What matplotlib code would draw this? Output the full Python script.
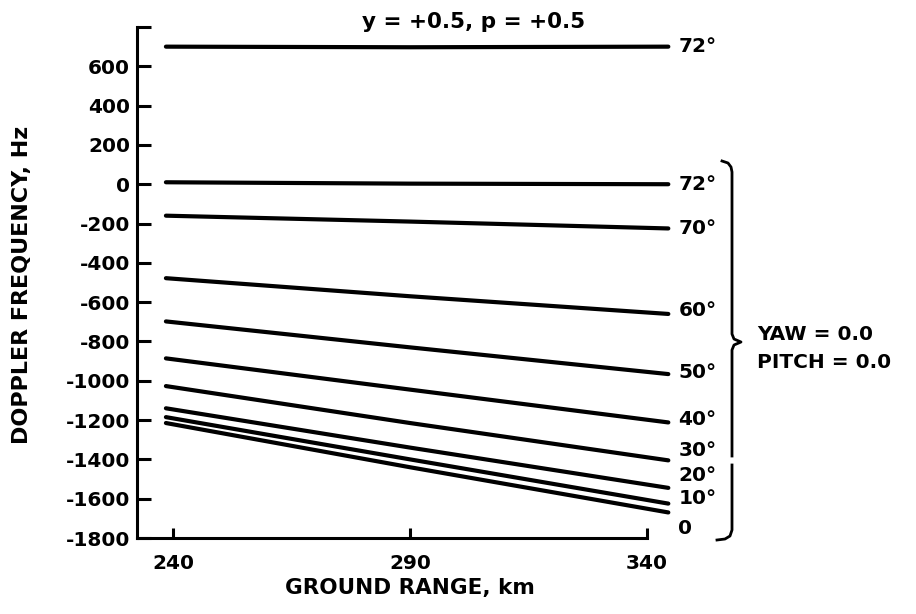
import numpy as np
import matplotlib
matplotlib.use("Agg")
import matplotlib.pyplot as plt
from matplotlib.lines import Line2D

# ground range points (km) where each curve was read
ground_range = [238.5, 290, 344.5]

# doppler frequency (Hz) for each look angle
angle_labels = ["72°", "72°", "70°", "60°", "50°", "40°", "30°", "20°", "10°", "0"]
doppler = [
    [700, 697, 700],        # y = +0.5, p = +0.5
    [10, 3, 0],
    [-160, -190, -225],
    [-478, -570, -660],
    [-698, -830, -966],
    [-886, -1045, -1212],
    [-1027, -1215, -1405],
    [-1140, -1340, -1545],
    [-1185, -1400, -1625],
    [-1215, -1440, -1670],
]
# where the angle labels sit (Hz), next to the line ends
label_y = [700, 0, -223, -645, -960, -1195, -1357, -1483, -1600, -1750]

yticks = list(range(-1800, 601, 200))
xticks = [240, 290, 340]

plt.rcParams['font.family'] = ['DejaVu Sans']
plt.rcParams['font.weight'] = 'bold'

W, H = 916, 614
fig = plt.figure(figsize=(W / 100, H / 100), dpi=100)
ax = fig.add_axes([137 / W, 1 - 538 / H, (647 - 137) / W, (538 - 27) / H])

for vals in doppler:
    ax.plot(ground_range, vals, color='black', lw=3.0, clip_on=False,
            solid_capstyle='round')

for lab, yv in zip(angle_labels, label_y):
    ax.text(346.6, yv, lab, fontsize=14.5, fontweight='bold', va='center', ha='left')

ax.set_xlim(232.4, 340)
ax.set_ylim(-1800, 800)
ax.set_yticks(yticks + [800])
ax.set_yticklabels([str(t) for t in yticks] + [''])
ax.set_xticks(xticks)
ax.set_xticklabels([str(t) for t in xticks])

for s in ['top', 'right']:
    ax.spines[s].set_visible(False)
for s in ['left', 'bottom']:
    ax.spines[s].set_linewidth(2.2)
ax.tick_params(axis='y', direction='in', length=10, width=2.2, labelsize=14.5, pad=5)
ax.tick_params(axis='x', direction='in', length=7, width=2.2, labelsize=14.5, pad=11.5)

ax.set_xlabel('GROUND RANGE, km', fontsize=15.5, fontweight='bold')
ax.xaxis.set_label_coords((410 - 137) / (647 - 137), -(588 - 538) / (538 - 27))
ax.xaxis.label.set_va('center')
ax.set_ylabel('DOPPLER FREQUENCY, Hz', fontsize=16, fontweight='bold')
ax.yaxis.set_label_coords(-(137 - 22) / (647 - 137), (538 - 285) / (538 - 27))
ax.yaxis.label.set_va('center')

fig.text(474 / W, 1 - 22 / H, 'y = +0.5, p = +0.5', fontsize=15.5,
         fontweight='bold', ha='center', va='center')


def fig_line(pts, **kw):
    xs = [p[0] / W for p in pts]
    ys = [1 - p[1] / H for p in pts]
    fig.add_artist(Line2D(xs, ys, transform=fig.transFigure, color='black', **kw))


# brace grouping the yaw = 0, pitch = 0 curves
fig_line([(722, 161), (728, 163), (731, 167), (732, 172), (732, 334),
          (734, 339), (741, 342), (734, 345), (732, 350), (732, 456)], lw=2.0)
fig_line([(732, 465), (732, 530), (730, 536), (725, 539), (717, 540)], lw=2.0)

fig.text(757 / W, 1 - 335 / H, 'YAW = 0.0', fontsize=14.5, fontweight='bold', va='center')
fig.text(757 / W, 1 - 363 / H, 'PITCH = 0.0', fontsize=14.5, fontweight='bold', va='center')

fig.savefig('out.png', dpi=100)
